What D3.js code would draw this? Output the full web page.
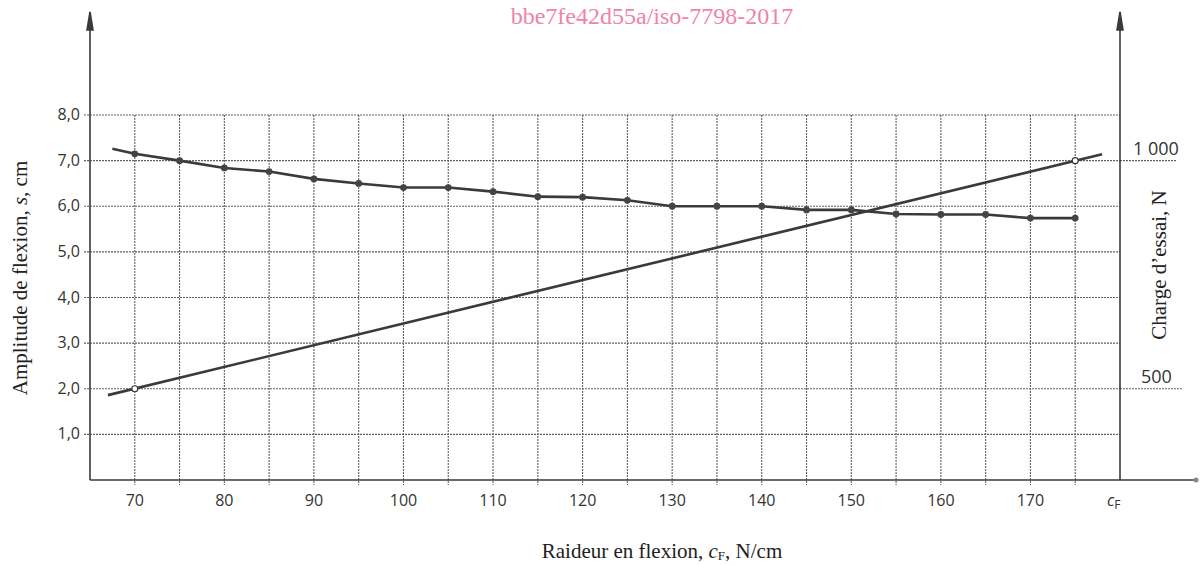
<!DOCTYPE html>
<html>
<head>
<meta charset="utf-8">
<script src="https://cdn.jsdelivr.net/npm/d3@7"></script>
<style>
  body { margin: 0; background: #fff; }
  svg { display: block; }
  .tick-lbl { font-family: "Open Sans", "DejaVu Sans", sans-serif; font-size: 16px; fill: #333; }
  .ax-title { font-family: "Liberation Serif", "DejaVu Serif", serif; font-size: 21px; fill: #222; }
</style>
</head>
<body>
<svg id="chart" width="1200" height="566"></svg>
<script>
// stiffness c_F (N/cm) where the points were measured
var cfPoints = [70, 75, 80, 85, 90, 95, 100, 105, 110, 115, 120, 125, 130, 135, 140, 145, 150, 155, 160, 165, 170, 175];
// bending amplitude s (cm) at each point
var sValues = [7.15, 7.0, 6.84, 6.76, 6.6, 6.5, 6.41, 6.41, 6.32, 6.21, 6.2, 6.13, 6.0, 6.0, 6.0, 5.92, 5.92, 5.83, 5.82, 5.82, 5.74, 5.74];
// the amplitude curve starts a bit before the first point
var sStart = { cf: 67.5, s: 7.26 };

// test load line (N)
var loadCf = [67, 178];
var loadN = [486, 1014];
var loadMarkCf = [70, 175];
var loadMarkN = [500, 1000];

// tick labels
var xTicks = [70, 80, 90, 100, 110, 120, 130, 140, 150, 160, 170];
var xGrid = d3.range(70, 176, 5);
var yTicks = [1, 2, 3, 4, 5, 6, 7, 8];
var rTicks = [500, 1000];

var svg = d3.select("#chart");
var ink = "#3a3a3a";

var x = d3.scaleLinear().domain([65, 180]).range([90, 1120]);
var y = d3.scaleLinear().domain([0, 8]).range([480, 115]);
var yR = d3.scaleLinear().domain([300, 1100]).range([480, 115]);

var fmtY = function(d) { return d3.format(".1f")(d).replace(".", ","); };
var fmtR = function(d) { return d >= 1000 ? "1 000" : String(d); };

// watermark at the top
svg.append("text")
  .attr("x", 652).attr("y", 24)
  .attr("text-anchor", "middle")
  .style("font-family", "Liberation Serif, serif")
  .style("font-size", "24px")
  .style("fill", "#f084a8")
  .text("bbe7fe42d55a/iso-7798-2017");

// grid
var grid = svg.append("g")
  .attr("stroke", "#606060")
  .attr("stroke-width", 1.1)
  .attr("stroke-dasharray", "2,1");

grid.selectAll("line.v").data(xGrid).enter().append("line")
  .attr("x1", function(d) { return x(d); })
  .attr("x2", function(d) { return x(d); })
  .attr("y1", y(8)).attr("y2", y(0) + 5);

grid.selectAll("line.h").data(yTicks).enter().append("line")
  .attr("x1", x(65) - 6).attr("x2", x(180))
  .attr("y1", function(d) { return y(d); })
  .attr("y2", function(d) { return y(d); });

// right scale reference lines that run past the frame
var rExt = { 500: 1182, 1000: 1177 };
grid.selectAll("line.r").data(rTicks).enter().append("line")
  .attr("x1", x(180)).attr("x2", function(d) { return rExt[d]; })
  .attr("y1", function(d) { return yR(d); })
  .attr("y2", function(d) { return yR(d); });

// axes
var axes = svg.append("g").attr("stroke", ink).attr("stroke-width", 1.6);
axes.append("line").attr("x1", x(65)).attr("x2", x(65)).attr("y1", y(0)).attr("y2", 12);
axes.append("line").attr("x1", x(180)).attr("x2", x(180)).attr("y1", y(0)).attr("y2", 12);
axes.append("line").attr("x1", x(65)).attr("x2", 1196).attr("y1", y(0)).attr("y2", y(0));
axes.append("path").attr("d", "M" + x(65) + ",30 L" + (x(65) - 3) + ",30 L" + x(65) + ",12 L" + (x(65) + 3) + ",30 Z").attr("fill", ink);
axes.append("path").attr("d", "M" + x(180) + ",30 L" + (x(180) - 3) + ",30 L" + x(180) + ",12 L" + (x(180) + 3) + ",30 Z").attr("fill", ink);
svg.append("circle").attr("cx", 1196).attr("cy", y(0)).attr("r", 2.5).attr("fill", "#888");

// tick labels
svg.append("g").selectAll("text").data(yTicks).enter().append("text")
  .attr("class", "tick-lbl")
  .attr("x", 80).attr("y", function(d) { return y(d); })
  .attr("dy", "0.32em").attr("text-anchor", "end")
  .text(fmtY);

svg.append("g").selectAll("text").data(xTicks).enter().append("text")
  .attr("class", "tick-lbl")
  .attr("x", function(d) { return x(d); }).attr("y", 506)
  .attr("text-anchor", "middle")
  .text(function(d) { return d; });

var cfl = svg.append("text").attr("class", "tick-lbl")
  .attr("x", 1107).attr("y", 506).style("font-style", "italic");
cfl.append("tspan").text("c");
cfl.append("tspan").attr("dy", 3).style("font-size", "12px").style("font-style", "normal").text("F");

svg.append("g").selectAll("text").data(rTicks).enter().append("text")
  .attr("class", "tick-lbl")
  .style("font-size", "18px")
  .attr("x", function(d) { return d >= 1000 ? 1133 : 1141; })
  .attr("y", function(d) { return yR(d) - 6; })
  .text(fmtR);

// axis titles
svg.append("text").attr("class", "ax-title")
  .attr("transform", "translate(27,278) rotate(-90)")
  .attr("text-anchor", "middle")
  .html('Amplitude de flexion, <tspan font-style="italic">s</tspan>, cm');

svg.append("text").attr("class", "ax-title")
  .attr("transform", "translate(1166,265) rotate(-90)")
  .attr("text-anchor", "middle")
  .text("Charge d\u2019essai, N");

svg.append("text").attr("class", "ax-title")
  .attr("x", 662).attr("y", 558)
  .attr("text-anchor", "middle")
  .html('Raideur en flexion, <tspan font-style="italic">c</tspan><tspan font-size="13px" dy="2">F</tspan><tspan dy="-2">, N/cm</tspan>');

// load line
var loadLine = d3.line()
  .x(function(d) { return x(d[0]); })
  .y(function(d) { return yR(d[1]); });
svg.append("path")
  .datum(d3.zip(loadCf, loadN))
  .attr("d", loadLine)
  .attr("fill", "none").attr("stroke", ink).attr("stroke-width", 2.6);

// amplitude curve
var ampData = [[sStart.cf, sStart.s]].concat(d3.zip(cfPoints, sValues));
var ampLine = d3.line()
  .x(function(d) { return x(d[0]); })
  .y(function(d) { return y(d[1]); });
svg.append("path")
  .datum(ampData)
  .attr("d", ampLine)
  .attr("fill", "none").attr("stroke", ink).attr("stroke-width", 2.6);

svg.append("g").selectAll("circle").data(d3.zip(cfPoints, sValues)).enter().append("circle")
  .attr("cx", function(d) { return x(d[0]); })
  .attr("cy", function(d) { return y(d[1]); })
  .attr("r", 3.4).attr("fill", "#444");

svg.append("g").selectAll("circle").data(d3.zip(loadMarkCf, loadMarkN)).enter().append("circle")
  .attr("cx", function(d) { return x(d[0]); })
  .attr("cy", function(d) { return yR(d[1]); })
  .attr("r", 3).attr("fill", "#fff").attr("stroke", ink).attr("stroke-width", 1.2);
</script>
</body>
</html>
